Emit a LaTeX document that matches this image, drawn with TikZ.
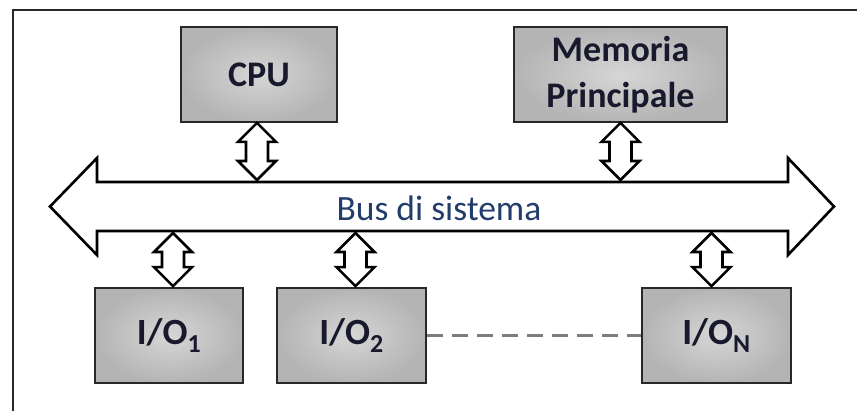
\documentclass[tikz,border=0pt]{standalone}
\usepackage{fontspec}
\setmainfont{Carlito}
\usetikzlibrary{calc}
\definecolor{boxtxt}{RGB}{25,25,45}
\definecolor{bustxt}{RGB}{35,60,105}
\definecolor{framecol}{RGB}{40,40,40}
\definecolor{boxin}{RGB}{214,214,214}
\definecolor{boxout}{RGB}{180,180,180}
\definecolor{dashcol}{RGB}{125,125,125}
\tikzset{
  unitbox/.style={draw=framecol,line width=1.8pt,inner color=boxin,outer color=boxout,
    inner sep=0pt,align=center,minimum height=95pt,
    font=\fontsize{36}{46}\selectfont\bfseries,text=boxtxt},
  iofont/.style={font=\fontsize{37}{46}\selectfont\bfseries},
  blockarrow/.style={draw=black,fill=white,line width=2.6pt,line join=miter},
  buslabel/.style={font=\fontsize{35.5}{40}\selectfont,text=bustxt,inner sep=0pt},
  dashlink/.style={draw=dashcol,line width=2.4pt,dash pattern=on 16pt off 9pt},
  framelines/.style={draw=framecol,line width=2pt}
}
% vertical double block arrow from point #1 (top) to point #2 (bottom)
\newcommand\DblArrow[2]{%
  \draw[blockarrow] let \p1=(#1), \p2=(#2) in
    (\x1,\y1) -- (\x1+19pt,\y1-19pt) -- (\x1+11pt,\y1-19pt)
    -- (\x1+11pt,\y2+19pt) -- (\x1+19pt,\y2+19pt) -- (\x1,\y2)
    -- (\x1-19pt,\y2+19pt) -- (\x1-11pt,\y2+19pt)
    -- (\x1-11pt,\y1-19pt) -- (\x1-19pt,\y1-19pt) -- cycle;}
\begin{document}
\begin{tikzpicture}[x=1pt,y=-1pt]
\useasboundingbox[fill=white] (0,0) rectangle (857,410);
% outer frame (only top and left edges visible)
\draw[framelines] (13,412) -- (13,10) -- (859,10);
% boxes
\node[unitbox,minimum width=156pt] (cpu) at (259,74.5) {\raisebox{-2pt}{CPU}};
\node[unitbox,minimum width=213pt] (mem) at (620.5,74.5) {Memoria\\Principale};
\node[unitbox,iofont,minimum width=148pt] (io1) at (169,335.5) {I/O\textsubscript{1}};
\node[unitbox,iofont,minimum width=149pt] (io2) at (351.5,335.5) {I/O\textsubscript{2}};
\node[unitbox,iofont,minimum width=149pt] (ion) at (716.5,335.5) {I/O\textsubscript{N}};
% bus
\coordinate (bt) at (440,182);
\coordinate (bb) at (440,231);
\draw[blockarrow] (50,206.5) -- (97,158) -- (97,182) -- (788,182) -- (788,158)
  -- (834,206.5) -- (788,255) -- (788,231) -- (97,231) -- (97,255) -- cycle;
\node[buslabel] (bus) at (439,208) {Bus di sistema};
% connections to bus
\coordinate (c1) at ($(cpu.south)+(-2,0)$);
\coordinate (c2) at ($(mem.south)+(0,0)$);
\coordinate (c3) at ($(io1.north)+(4,-1)$);
\coordinate (c4) at ($(io2.north)+(4,-1)$);
\coordinate (c5) at ($(ion.north)+(-5,-1)$);
\DblArrow{c1}{$(c1 |- bt)+(0,-2)$}
\DblArrow{c2}{$(c2 |- bt)+(0,-2)$}
\DblArrow{$(c3 |- bb)+(0,2)$}{c3}
\DblArrow{$(c4 |- bb)+(0,2)$}{c4}
\DblArrow{$(c5 |- bb)+(0,2)$}{c5}
% dashed link
\draw[dashlink] (io2.east) -- (ion.west);
\end{tikzpicture}
\end{document}
